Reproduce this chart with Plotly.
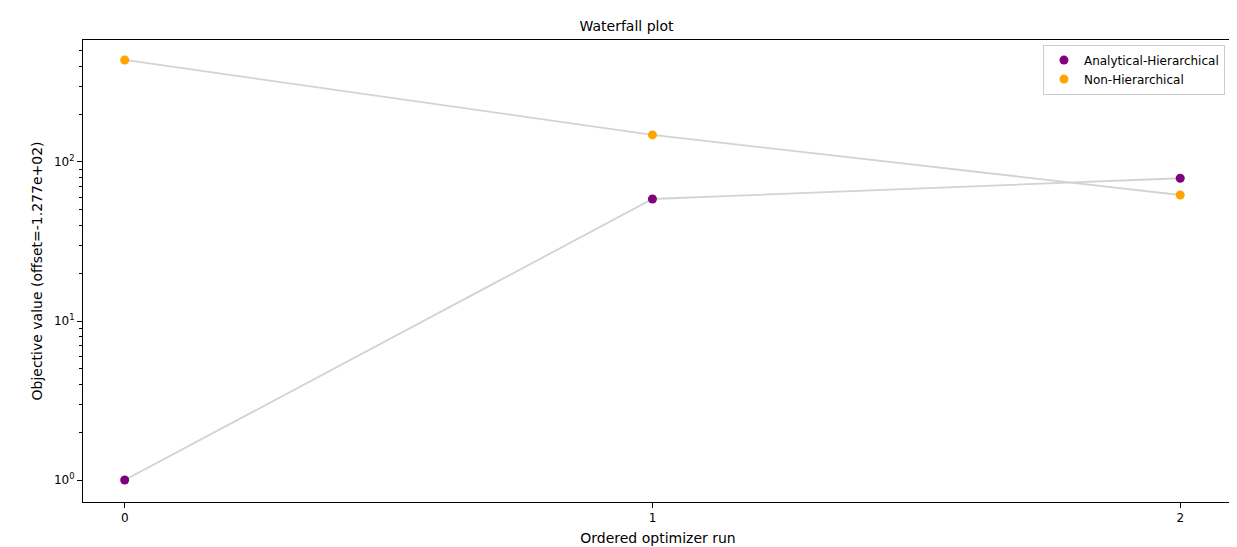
import plotly.graph_objects as go

runs = [0, 1, 2]
analytical = [1.0, 58.5, 79.0]
non_hier = [438.0, 148.0, 62.0]
tick_vals = [1, 10, 100]
tick_text = ["10<sup>0</sup>", "10<sup>1</sup>", "10<sup>2</sup>"]
minor_vals = [m * d for d in (1, 10, 100) for m in range(2, 10)]

fig = go.Figure()
for vals in (analytical, non_hier):
    fig.add_trace(go.Scatter(x=runs, y=vals, mode="lines",
                             line=dict(color="lightgrey", width=1.8),
                             showlegend=False, hoverinfo="skip"))
fig.add_trace(go.Scatter(x=runs, y=analytical, mode="markers",
                         marker=dict(color="purple", size=9),
                         name="Analytical-Hierarchical"))
fig.add_trace(go.Scatter(x=runs, y=non_hier, mode="markers",
                         marker=dict(color="orange", size=9),
                         name="Non-Hierarchical"))

axis_style = dict(showline=True, mirror=True, linecolor="black", linewidth=1,
                  ticks="outside", ticklen=5, tickcolor="black",
                  showgrid=False, zeroline=False)
fig.update_layout(
    width=1237, height=547,
    paper_bgcolor="white", plot_bgcolor="white",
    font=dict(family="DejaVu Sans", size=12, color="black"),
    margin=dict(l=75, r=12, t=32, b=53),
    title=dict(text="Waterfall plot", x=0.5, xanchor="center",
               y=1 - 18 / 547, yanchor="middle", font=dict(size=14)),
    xaxis=dict(range=[-0.079, 2.1], tickvals=runs,
               title=dict(text="Ordered optimizer run", standoff=8), **axis_style),
    yaxis=dict(type="log", range=[-0.138, 2.767], tickvals=tick_vals,
               ticktext=tick_text,
               minor=dict(ticks="outside", ticklen=3, tickcolor="black",
                          showgrid=False, tickvals=minor_vals),
               title=dict(text="Objective value (offset=-1.277e+02)", standoff=8),
               **axis_style),
    legend=dict(x=0.993, y=0.99, xanchor="right", yanchor="top",
                bordercolor="#cccccc", borderwidth=1, bgcolor="white"),
)
fig.write_html("out.html")
